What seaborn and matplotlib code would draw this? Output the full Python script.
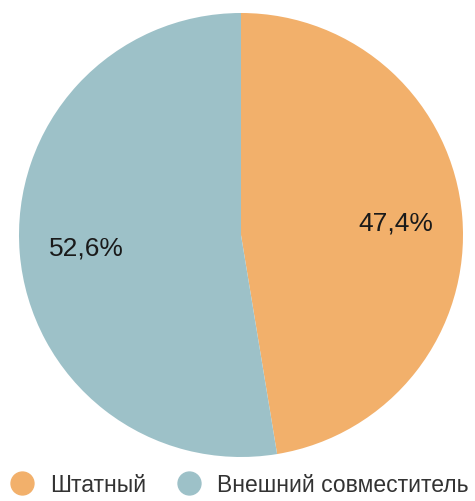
import matplotlib
matplotlib.use("Agg")
import matplotlib.pyplot as plt
from matplotlib.lines import Line2D
import seaborn as sns

# data
categories = ["Штатный", "Внешний совместитель"]
shares = [47.4, 52.6]
colors = ["#F2B06B", "#9DC1C8"]

sns.set_theme(style="white")
plt.rcParams["font.family"] = ["Liberation Sans", "DejaVu Sans"]

fig = plt.figure(figsize=(4.75, 5.02), dpi=100)
ax = fig.add_axes([19 / 475, 1 - 458 / 502, 444 / 475, 444 / 502])

wedges, texts, autotexts = ax.pie(
    shares,
    colors=colors,
    startangle=90,
    counterclock=False,
    autopct=lambda p: f"{p:.1f}%".replace(".", ","),
    pctdistance=0.7,
    wedgeprops=dict(linewidth=0),
    textprops=dict(fontsize=19, color="#1a1a1a"),
)
ax.set_aspect("equal")
ax.set_xlim(-1, 1)
ax.set_ylim(-1, 1)

# legend at bottom
handles = [
    Line2D([0], [0], marker="o", linestyle="none", markersize=16.5,
           markerfacecolor=c, markeredgecolor=c)
    for c in colors
]
fig.legend(
    handles, categories,
    loc="center left", bbox_to_anchor=(11 / 475, 1 - 486 / 502),
    ncol=2, frameon=False, fontsize=16.5,
    handlelength=1.0, handletextpad=0.72, columnspacing=1.35,
    borderpad=0, borderaxespad=0, labelcolor="#333333",
)

fig.savefig("out.png", dpi=100)
